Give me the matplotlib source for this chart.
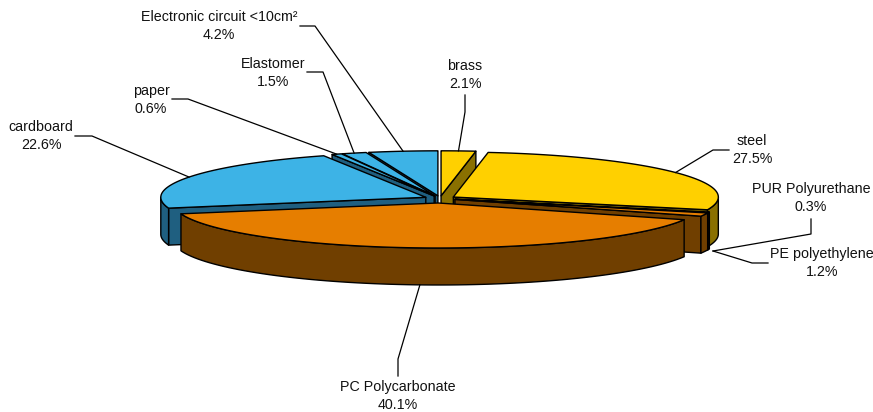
import matplotlib
matplotlib.use('Agg')
import matplotlib.pyplot as plt
import numpy as np

plt.rcParams['font.family'] = ['Liberation Sans', 'DejaVu Sans']

# materials, clockwise from 12 o'clock
names = ['brass', 'steel', 'PUR Polyurethane', 'PE polyethylene', 'PC Polycarbonate',
         'cardboard', 'paper', 'Elastomer', 'Electronic circuit <10cm²']
shares = [2.1, 27.5, 0.3, 1.2, 40.1, 22.6, 0.6, 1.5, 4.2]
top_colors = ['#FFD000', '#FFD000', '#E67E00', '#E67E00', '#E67E00',
              '#3DB3E6', '#3DB3E6', '#3DB3E6', '#3DB3E6']
side_colors = ['#8A7000', '#8A7000', '#703F00', '#703F00', '#703F00',
               '#1F5F80', '#1F5F80', '#1F5F80', '#1F5F80']

# label centre, and elbow points of the leader line
label_pos = [(465, 75), (752, 150), (811, 198), (822, 263), (398, 396),
             (41, 136), (151, 100), (273, 73), (219, 26)]
elbows = [[(465, 95), (465, 112)], [(729, 150), (713, 150)], [(811, 219), (811, 234)],
          [(768, 263), (752, 263)], [(398, 376), (398, 359)],
          [(75, 136), (92, 136)], [(172, 99), (188, 99)], [(307, 72), (323, 72)],
          [(300, 26), (315, 26)]]
# these two leaders meet just right of the lower rim
leader_end = {2: (713, 251), 3: (713, 251)}

cx, cy = 440, 198.5
a, b = 265, 45
depth = 37
explode = [0.06, 0.06, 0.06, 0.06, 0.1, 0.06, 0.06, 0.06, 0.06]

fig = plt.figure(figsize=(8.73, 4.12), dpi=100)
ax = fig.add_axes([0, 0, 1, 1])
ax.set_xlim(0, 873)
ax.set_ylim(412, 0)
ax.axis('off')

edges = np.cumsum([0] + shares) / sum(shares) * 2 * np.pi
starts = edges[:-1]
ends = edges[1:]
mids = (starts + ends) / 2


def arc(i, t0, t1, dy=0):
    # points on the rim of slice i, angle measured clockwise from the top
    ox = cx + explode[i] * a * np.sin(mids[i])
    oy = cy - explode[i] * b * np.cos(mids[i])
    t = np.linspace(t0, t1, 80)
    return np.column_stack([ox + a * np.sin(t), oy - b * np.cos(t) + dy])


def tip(i, dy=0):
    return np.array([[cx + explode[i] * a * np.sin(mids[i]),
                      cy - explode[i] * b * np.cos(mids[i]) + dy]])


def fill(pts, color, z):
    ax.fill(pts[:, 0], pts[:, 1], facecolor=color, edgecolor='black', linewidth=1.0,
            joinstyle='round', zorder=z)


# back slices first, the big front one last
order = [8, 7, 6, 0, 5, 1, 2, 3, 4]
for z, i in enumerate(order):
    base = z * 4 + 1
    # cut faces: only the ones turned toward the viewer
    visible = []
    if np.sin(starts[i]) < 0:
        visible.append(starts[i])
    if np.sin(ends[i]) > 0:
        visible.append(ends[i])
    for t in visible:
        face = np.vstack([tip(i), arc(i, t, t, 0)[:1], arc(i, t, t, depth)[:1], tip(i, depth)])
        fill(face, side_colors[i], base)
    t0 = max(starts[i], np.pi / 2)
    t1 = min(ends[i], 3 * np.pi / 2)
    if t1 > t0:
        fill(np.vstack([arc(i, t0, t1), arc(i, t1, t0, depth)]), side_colors[i], base + 1)
    fill(np.vstack([tip(i), arc(i, starts[i], ends[i])]), top_colors[i], base + 2)

for i, name in enumerate(names):
    x, y = label_pos[i]
    ax.text(x, y, f'{name}\n{shares[i]:.1f}%', ha='center', va='center', fontsize=10.3,
            linespacing=1.3, color='#111111', zorder=60)
    # leader ends on the rim, on the lower edge for the slices at the front
    front = np.cos(mids[i]) < 0
    end = arc(i, mids[i], mids[i], depth if front else 0)[0]
    end = leader_end.get(i, tuple(end))
    pts = np.array(elbows[i] + [end])
    ax.plot(pts[:, 0], pts[:, 1], color='black', linewidth=0.9, zorder=55)

fig.savefig('out.png', dpi=100)
